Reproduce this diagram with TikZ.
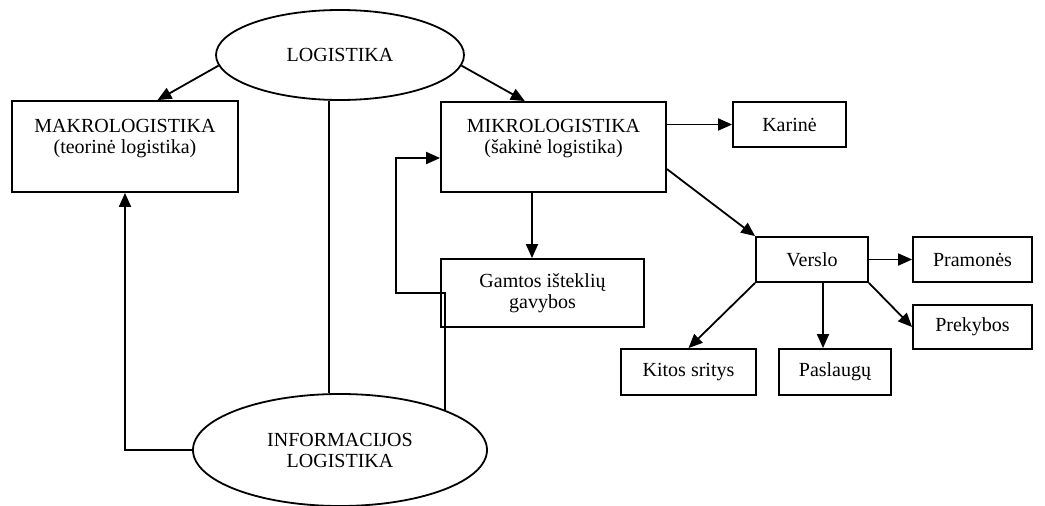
\documentclass[tikz,border=0pt]{standalone}
\usepackage{fontspec}
\setmainfont{Liberation Serif}
\usetikzlibrary{arrows.meta,shapes.geometric,calc}

\begin{document}
\begin{tikzpicture}[x=1pt, y=-1pt, line width=1.8pt,
    font=\fontsize{20}{21}\selectfont,
    box/.style={draw, rectangle, align=center, inner sep=0pt},
    oval/.style={draw, ellipse, align=center, inner sep=0pt},
    arr/.style={-{Triangle[length=14pt,width=12pt]}}]
    \useasboundingbox (0,0) rectangle (1045,506);

    \node[oval, minimum width=248, minimum height=90] (logistika) at (340,55) {LOGISTIKA};
    \node[oval, minimum width=294, minimum height=112] (info) at (340,450) {INFORMACIJOS\\LOGISTIKA};

    \node[box, minimum width=226, minimum height=91] (makro) at (125,146.5) {MAKROLOGISTIKA\\(teorinė logistika)\\ \mbox{}};
    \node[box, minimum width=225, minimum height=90] (mikro) at (553.5,147) {MIKROLOGISTIKA\\(šakinė logistika)\\ \mbox{}};
    \node[box, minimum width=113, minimum height=45] (karine) at (789.5,124.5) {Karinė};
    \node[box, minimum width=203, minimum height=68] (gamtos) at (542.5,293) {Gamtos išteklių\\gavybos};
    \node[box, minimum width=112, minimum height=45] (verslo) at (812,259.5) {Verslo};
    \node[box, minimum width=119, minimum height=45] (pramones) at (972.5,259.5) {Pramonės};
    \node[box, minimum width=119, minimum height=44] (prekybos) at (972.5,327) {Prekybos};
    \node[box, minimum width=135, minimum height=46] (kitos) at (688.5,372) {Kitos sritys};
    \node[box, minimum width=112, minimum height=46] (paslaugu) at (835,372) {Paslaugų};

    \coordinate (bend) at (396,293);

    \draw[arr] (logistika.185) -- (makro.55);
    \draw[arr] (logistika.-5) -- (mikro.122);
    \draw ($(logistika.south)+(-11,0)$) -- ($(info.north)+(-11,0)$);
    \draw[arr] (info.west) -| (makro.south);
    \draw[arr] (info.21) |- (bend) |- ($(mikro.west)+(0,11)$);

    \draw[arr] (mikro.east |- karine.west) -- (karine.west);
    \draw[arr] ($(mikro.south)+(-21.5,0)$) -- ($(gamtos.north)+(-10.5,0)$);
    \draw[arr] (mikro.-11) -- (verslo.north west);

    \draw[arr] (verslo.east) -- (pramones.west);
    \draw[arr] (verslo.south east) -- (prekybos.west);
    \draw[arr] ($(verslo.south)+(11,0)$) -- ($(paslaugu.north)+(-12,0)$);
    \draw[arr] (verslo.south west) -- (kitos.north);

\end{tikzpicture}
\end{document}
